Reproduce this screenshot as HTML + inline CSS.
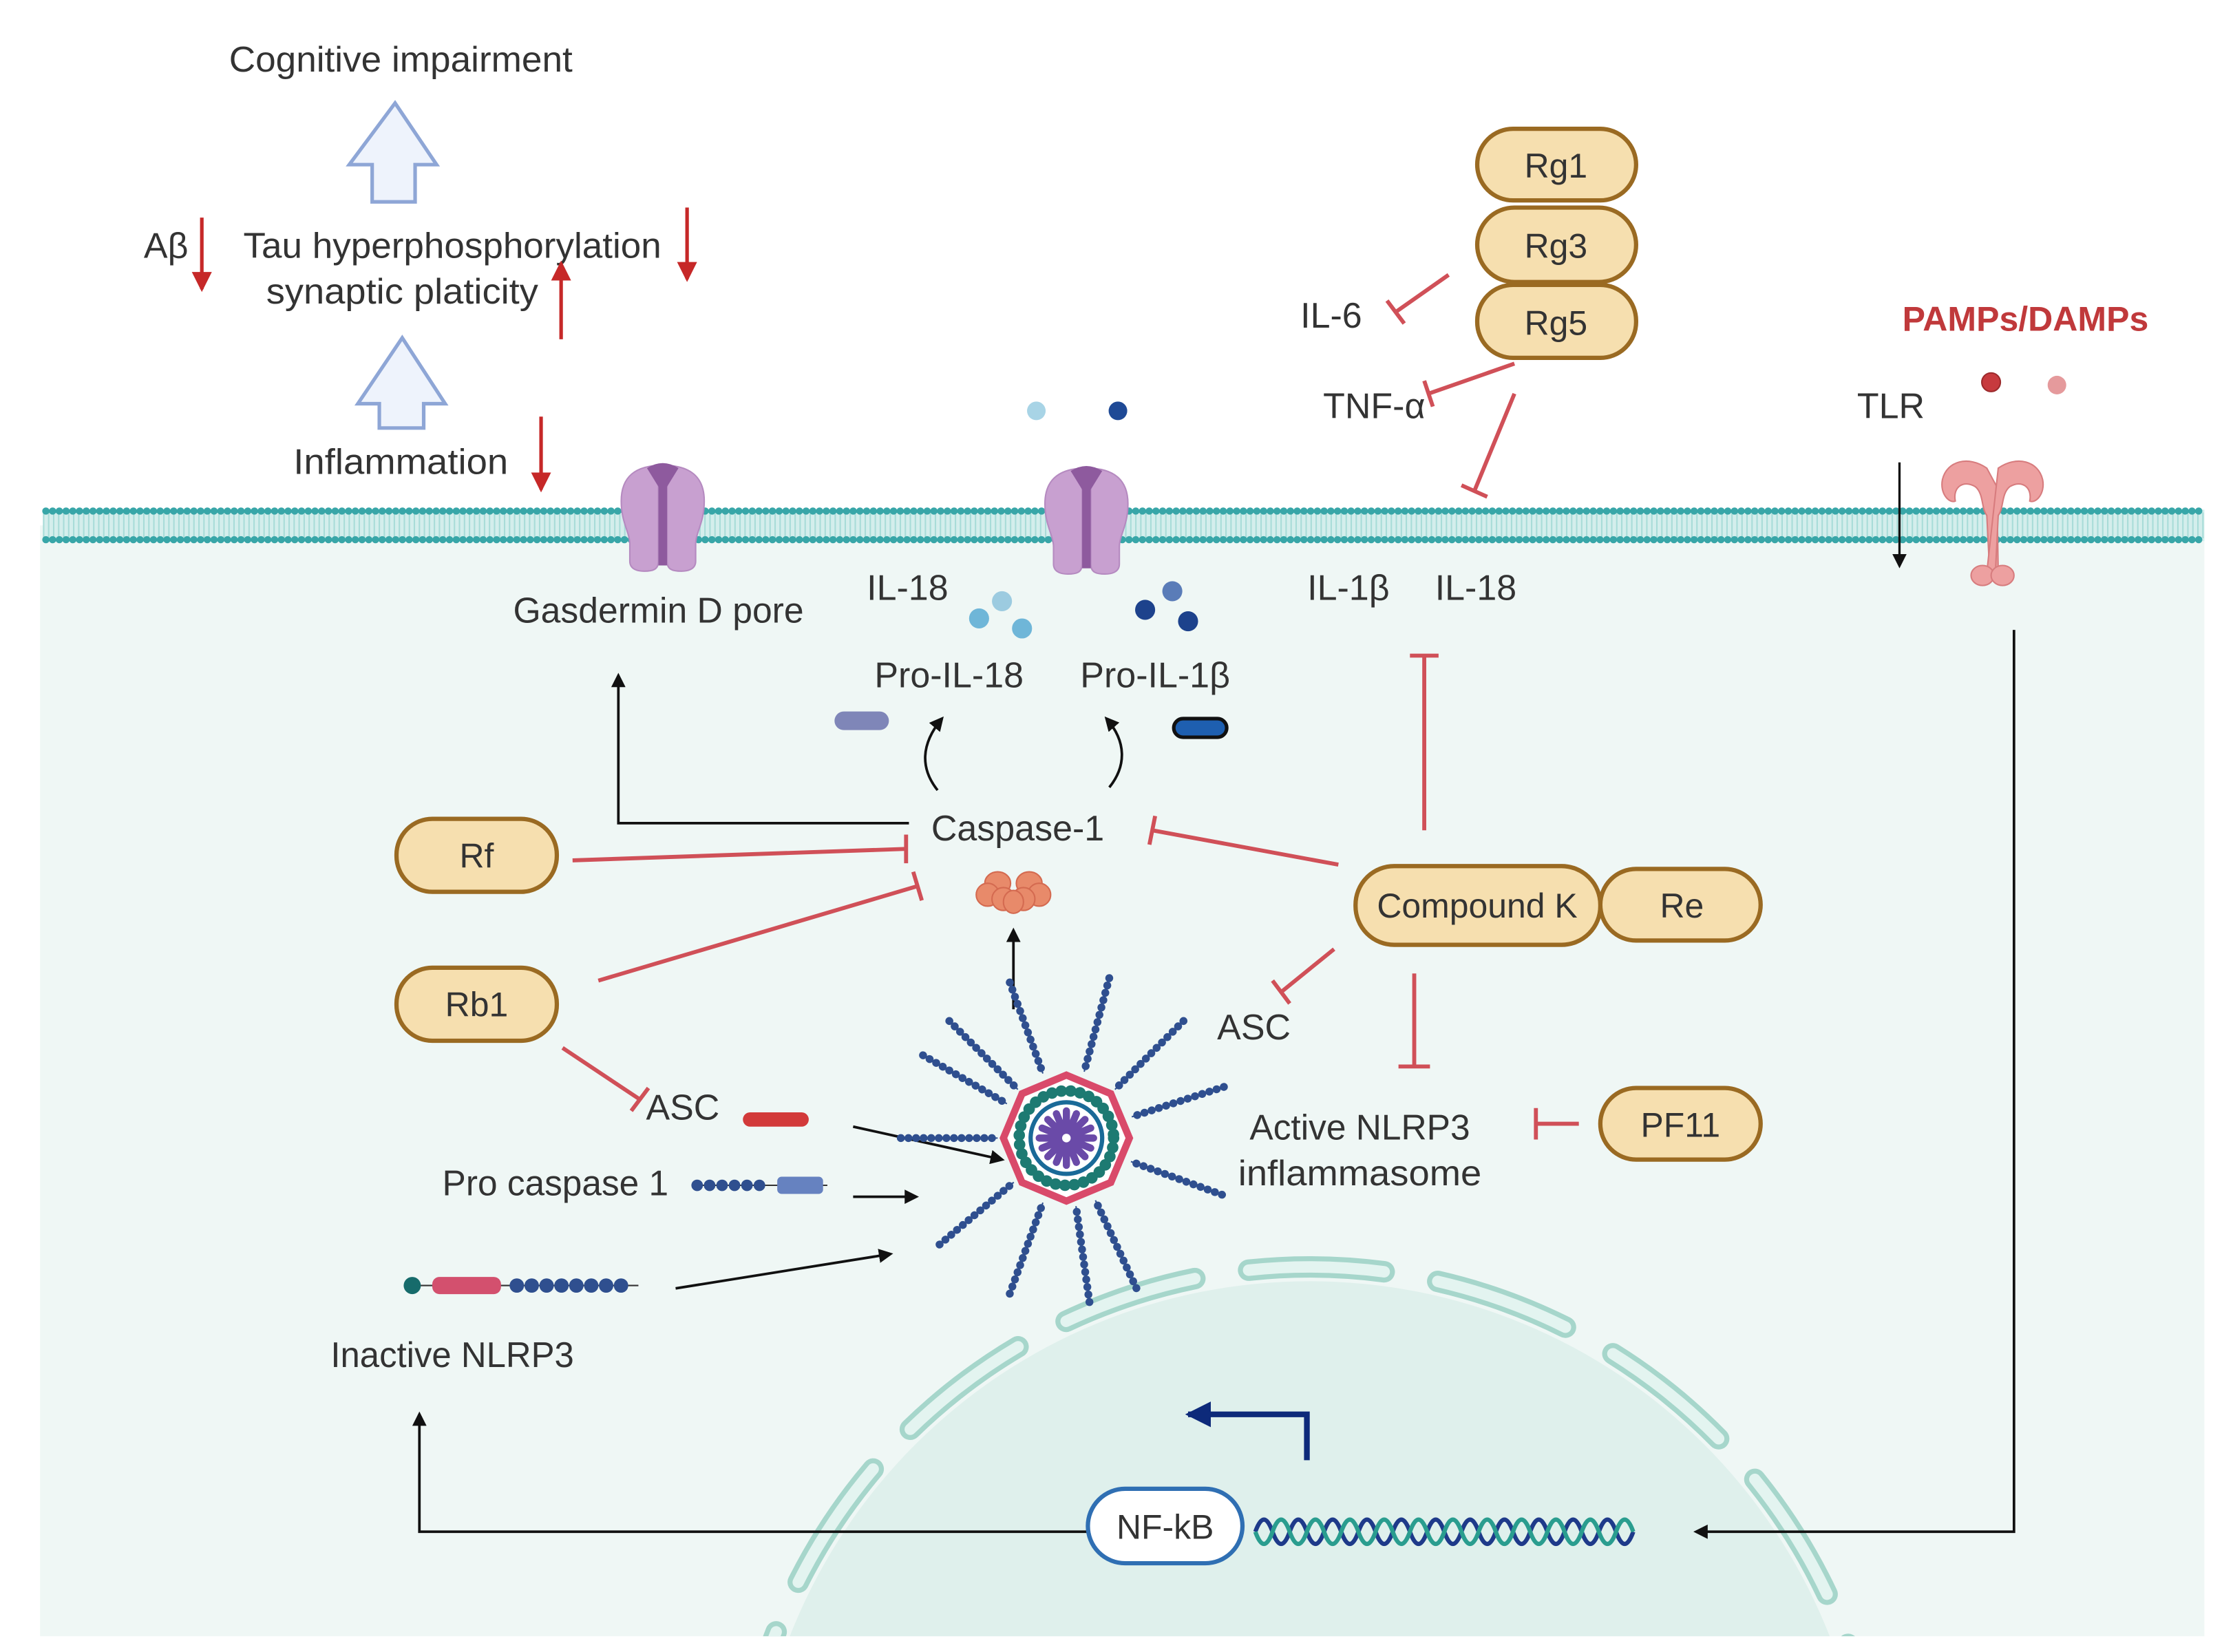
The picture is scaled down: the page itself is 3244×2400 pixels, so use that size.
<!DOCTYPE html>
<html><head><meta charset="utf-8"><style>
html,body{margin:0;padding:0;background:#fff;width:3244px;height:2400px;overflow:hidden}
svg{display:block}
text{font-family:"Liberation Sans",sans-serif;fill:#333}
</style></head><body>
<svg width="3244" height="2400" viewBox="0 0 1560 1154" preserveAspectRatio="none" xmlns="http://www.w3.org/2000/svg">
<defs>
<marker id="ab" markerWidth="10" markerHeight="10" refX="8" refY="5" orient="auto" markerUnits="userSpaceOnUse"><path d="M0,0 L10,5 L0,10 z" fill="#111"/></marker>
<marker id="ar" markerWidth="14" markerHeight="14" refX="12" refY="7" orient="auto" markerUnits="userSpaceOnUse"><path d="M0,0 L14,7 L0,14 z" fill="#c62828"/></marker>
<marker id="an" markerWidth="18" markerHeight="18" refX="16" refY="9" orient="auto" markerUnits="userSpaceOnUse"><path d="M0,0 L18,9 L0,18 z" fill="#0d2a7a"/></marker>
<clipPath id="cell"><rect x="28" y="367" width="1512" height="776"/></clipPath>
<g id="spoke"><line x1="0" y1="-52" x2="0" y2="-118" stroke="#2f4f8f" stroke-width="5.5" stroke-dasharray="0.1 5.2" stroke-linecap="round"/><line x1="0" y1="-48" x2="0" y2="-116" stroke="#2f4f8f" stroke-width="1"/></g>
</defs>

<rect x="28" y="367" width="1512" height="776" fill="#eff7f5"/>

<g clip-path="url(#cell)">
<circle cx="915" cy="1285" r="390" fill="#dff0ec"/>
<circle cx="915" cy="1285" r="400" fill="none" stroke="#a6d6cb" stroke-width="15" stroke-dasharray="95 38" stroke-dashoffset="20" stroke-linecap="round"/>
<circle cx="915" cy="1285" r="400" fill="none" stroke="#e3f4f0" stroke-width="8" stroke-dasharray="95 38" stroke-dashoffset="20" stroke-linecap="round"/>
</g>

<rect x="30" y="356" width="1510" height="22" fill="#d4eeec"/>
<line x1="30" y1="367" x2="1540" y2="367" stroke="#a8dcd8" stroke-width="18" stroke-dasharray="1 2.5"/>
<line x1="32" y1="357" x2="1540" y2="357" stroke="#38a6a8" stroke-width="5" stroke-dasharray="0.1 4.6" stroke-linecap="round"/>
<line x1="32" y1="377" x2="1540" y2="377" stroke="#38a6a8" stroke-width="5" stroke-dasharray="0.1 4.6" stroke-linecap="round"/>

<text x="280" y="50" font-size="25" text-anchor="middle" textLength="240" lengthAdjust="spacingAndGlyphs">Cognitive impairment</text>
<path d="M276,72 L305,115 L290,115 L290,141 L260,141 L260,115 L244,115 Z" fill="#eef3fc" stroke="#8ea6d6" stroke-width="2.5"/>
<path d="M281,236 L311,282 L296,282 L296,299 L265,299 L265,282 L250,282 Z" fill="#eef3fc" stroke="#8ea6d6" stroke-width="2.5"/>
<text x="116" y="180" font-size="25" text-anchor="middle">Aβ</text>
<line x1="141" y1="152" x2="141" y2="202" stroke="#c62828" stroke-width="2.5" marker-end="url(#ar)"/>
<text x="316" y="180" font-size="25" text-anchor="middle" textLength="292" lengthAdjust="spacingAndGlyphs">Tau hyperphosphorylation</text>
<text x="281" y="212" font-size="25" text-anchor="middle" textLength="190" lengthAdjust="spacingAndGlyphs">synaptic platicity</text>
<line x1="480" y1="145" x2="480" y2="195" stroke="#c62828" stroke-width="2.5" marker-end="url(#ar)"/>
<line x1="392" y1="237" x2="392" y2="184" stroke="#c62828" stroke-width="2.5" marker-end="url(#ar)"/>
<text x="280" y="331" font-size="25" text-anchor="middle" textLength="150" lengthAdjust="spacingAndGlyphs">Inflammation</text>
<line x1="378" y1="291" x2="378" y2="342" stroke="#c62828" stroke-width="2.5" marker-end="url(#ar)"/>

<g id="pore">
<path d="M463,325 C445,325 434,332 434,350 C434,365 440,372 440,380 L440,392 C440,398 446,399 450,399 C456,399 460,398 460,392 L460,330 Z" fill="#c8a0d0" stroke="#b58ac0" stroke-width="1"/>
<path d="M463,325 C481,325 492,332 492,350 C492,365 486,372 486,380 L486,392 C486,398 480,399 476,399 C470,399 466,398 466,392 L466,330 Z" fill="#c8a0d0" stroke="#b58ac0" stroke-width="1"/>
<path d="M452,327 Q463,320 474,327 L466,340 L466,395 L460,395 L460,340 Z" fill="#8e5a9e"/>
</g>
<use href="#pore" transform="translate(296,2)"/>

<circle cx="724" cy="287" r="6.5" fill="#a8d4e6"/>
<circle cx="781" cy="287" r="6.5" fill="#1f4a96"/>

<g font-size="24" text-anchor="middle">
<rect x="1032" y="90" width="111" height="50" rx="25" fill="#f6dfaf" stroke="#9a6a22" stroke-width="3"/>
<text x="1087" y="124">Rg1</text>
<rect x="1032" y="145" width="111" height="52" rx="26" fill="#f6dfaf" stroke="#9a6a22" stroke-width="3"/>
<text x="1087" y="180">Rg3</text>
<rect x="1032" y="199" width="111" height="51" rx="25" fill="#f6dfaf" stroke="#9a6a22" stroke-width="3"/>
<text x="1087" y="234">Rg5</text>
<rect x="277" y="572" width="112" height="51" rx="25" fill="#f6dfaf" stroke="#9a6a22" stroke-width="3"/>
<text x="333" y="606">Rf</text>
<rect x="277" y="676" width="112" height="51" rx="25" fill="#f6dfaf" stroke="#9a6a22" stroke-width="3"/>
<text x="333" y="710">Rb1</text>
<rect x="1118" y="607" width="112" height="50" rx="25" fill="#f6dfaf" stroke="#9a6a22" stroke-width="3"/>
<text x="1175" y="641">Re</text>
<rect x="947" y="605" width="171" height="55" rx="27" fill="#f6dfaf" stroke="#9a6a22" stroke-width="3"/>
<text x="1032" y="641">Compound K</text>
<rect x="1118" y="760" width="112" height="50" rx="25" fill="#f6dfaf" stroke="#9a6a22" stroke-width="3"/>
<text x="1174" y="794">PF11</text>
</g>

<g font-size="25" text-anchor="middle">
<text x="930" y="229">IL-6</text>
<text x="960" y="292">TNF-α</text>
<text x="1321" y="292">TLR</text>
<text x="942" y="419">IL-1β</text>
<text x="1031" y="419">IL-18</text>
<text x="634" y="419">IL-18</text>
<text x="460" y="435" textLength="203" lengthAdjust="spacingAndGlyphs">Gasdermin D pore</text>
<text x="663" y="480">Pro-IL-18</text>
<text x="807" y="480">Pro-IL-1β</text>
<text x="711" y="587">Caspase-1</text>
<text x="876" y="726">ASC</text>
<text x="950" y="796" textLength="154" lengthAdjust="spacingAndGlyphs">Active NLRP3</text>
<text x="950" y="828" textLength="170" lengthAdjust="spacingAndGlyphs">inflammasome</text>
<text x="477" y="782">ASC</text>
<text x="388" y="835" textLength="158" lengthAdjust="spacingAndGlyphs">Pro caspase 1</text>
<text x="316" y="955" textLength="170" lengthAdjust="spacingAndGlyphs">Inactive NLRP3</text>
</g>
<text x="1415" y="231" font-size="24" font-weight="bold" text-anchor="middle" style="fill:#c0393b" textLength="172" lengthAdjust="spacingAndGlyphs">PAMPs/DAMPs</text>
<circle cx="1391" cy="267" r="6.5" fill="#c73a3e" stroke="#9c2a2c" stroke-width="1"/>
<circle cx="1437" cy="269" r="6.5" fill="#e59a9c"/>

<g fill="#eda0a0" stroke="#d77c7e" stroke-width="1">
<path d="M1388,327 C1375,318 1360,322 1357,335 C1355,345 1362,352 1366,350 C1364,340 1372,335 1380,340 C1386,345 1384,355 1388,360 L1390,400 L1396,400 L1395,340 Z"/>
<path d="M1396,327 C1409,318 1424,322 1427,335 C1429,345 1422,352 1418,350 C1420,340 1412,335 1404,340 C1398,345 1400,355 1396,360 L1394,400 L1388,400 Z"/>
<ellipse cx="1385" cy="402" rx="8" ry="7"/><ellipse cx="1399" cy="402" rx="8" ry="7"/>
</g>
<line x1="1327" y1="323" x2="1327" y2="395" stroke="#111" stroke-width="1.6" marker-end="url(#ab)"/>
<polyline points="1407,440 1407,1070 1185,1070" fill="none" stroke="#111" stroke-width="1.8" marker-end="url(#ab)"/>

<g stroke="#d05058" stroke-width="2.8" fill="none">
<line x1="1012" y1="192" x2="975" y2="218"/><line x1="969" y1="210" x2="981" y2="226"/>
<line x1="1058" y1="254" x2="998" y2="275"/><line x1="995" y1="266" x2="1001" y2="284"/>
<line x1="1058" y1="275" x2="1030" y2="343"/><line x1="1021" y1="339" x2="1039" y2="347"/>
<line x1="995" y1="580" x2="995" y2="458"/><line x1="985" y1="458" x2="1005" y2="458"/>
<line x1="400" y1="601" x2="633" y2="593"/><line x1="633" y1="583" x2="633" y2="603"/>
<line x1="418" y1="685" x2="641" y2="619"/><line x1="638" y1="609" x2="644" y2="629"/>
<line x1="935" y1="604" x2="805" y2="580"/><line x1="807" y1="570" x2="803" y2="590"/>
<line x1="932" y1="663" x2="895" y2="693"/><line x1="889" y1="685" x2="901" y2="701"/>
<line x1="988" y1="680" x2="988" y2="745"/><line x1="977" y1="745" x2="999" y2="745"/>
<line x1="1103" y1="785" x2="1073" y2="785"/><line x1="1073" y1="774" x2="1073" y2="796"/>
<line x1="393" y1="732" x2="447" y2="768"/><line x1="441" y1="776" x2="453" y2="760"/>
</g>

<g stroke="#111" stroke-width="1.8" fill="none">
<polyline points="635,575 432,575 432,472" marker-end="url(#ab)"/>
<line x1="708" y1="705" x2="708" y2="650" marker-end="url(#ab)"/>
<line x1="596" y1="787" x2="700" y2="810" marker-end="url(#ab)"/>
<line x1="596" y1="836" x2="640" y2="836" marker-end="url(#ab)"/>
<line x1="472" y1="900" x2="622" y2="876" marker-end="url(#ab)"/>
<polyline points="760,1070 293,1070 293,988" marker-end="url(#ab)"/>
<path d="M655,552 C643,537 643,520 658,502" marker-end="url(#ab)"/>
<path d="M775,550 C787,535 787,518 773,502" marker-end="url(#ab)"/>
</g>

<rect x="583" y="497" width="38" height="13" rx="6.5" fill="#7f86b8"/>
<rect x="820" y="502" width="37" height="13" rx="6.5" fill="#1e5fb0" stroke="#111" stroke-width="2.5"/>
<circle cx="700" cy="420" r="7" fill="#9ccbe0"/><circle cx="684" cy="432" r="7" fill="#6fb6d8"/><circle cx="714" cy="439" r="7" fill="#6fb6d8"/>
<circle cx="819" cy="413" r="7" fill="#5a7cb8"/><circle cx="800" cy="426" r="7" fill="#1d428c"/><circle cx="830" cy="434" r="7" fill="#1d428c"/>

<g fill="#e88a6a" stroke="#d46a50" stroke-width="1">
<ellipse cx="697" cy="617" rx="9" ry="8"/><ellipse cx="719" cy="617" rx="9" ry="8"/>
<ellipse cx="690" cy="625" rx="8" ry="8"/><ellipse cx="726" cy="625" rx="8" ry="8"/>
<ellipse cx="701" cy="628" rx="8" ry="8"/><ellipse cx="715" cy="628" rx="8" ry="8"/>
<ellipse cx="708" cy="630" rx="7" ry="8"/>
</g>

<rect x="519" y="777" width="46" height="10" rx="5" fill="#d23a3a"/>
<line x1="485" y1="828" x2="578" y2="828" stroke="#333" stroke-width="1"/>
<line x1="487" y1="828" x2="532" y2="828" stroke="#2f4f8f" stroke-width="8" stroke-dasharray="0.1 8.6" stroke-linecap="round"/>
<rect x="543" y="822" width="32" height="12" rx="3" fill="#6682c0"/>
<line x1="290" y1="898" x2="446" y2="898" stroke="#333" stroke-width="1"/>
<circle cx="288" cy="898" r="6" fill="#166b6b"/>
<rect x="302" y="892" width="48" height="12" rx="5" fill="#d3506e"/>
<line x1="361" y1="898" x2="444" y2="898" stroke="#2f4f8f" stroke-width="10" stroke-dasharray="0.1 10.3" stroke-linecap="round"/>

<g transform="translate(745,795)">
<use href="#spoke" transform="rotate(-20)"/>
<use href="#spoke" transform="rotate(15)"/>
<use href="#spoke" transform="rotate(45)"/>
<use href="#spoke" transform="rotate(72)"/>
<use href="#spoke" transform="rotate(110)"/>
<use href="#spoke" transform="rotate(155)"/>
<use href="#spoke" transform="rotate(172)"/>
<use href="#spoke" transform="rotate(200)"/>
<use href="#spoke" transform="rotate(230)"/>
<use href="#spoke" transform="rotate(270)"/>
<use href="#spoke" transform="rotate(300)"/>
<use href="#spoke" transform="rotate(-45)"/>
<polygon points="0,-44 31,-31 44,0 31,31 0,44 -31,31 -44,0 -31,-31" fill="#fff" stroke="#d94a6a" stroke-width="5"/>
<circle r="33" fill="none" stroke="#1d7a72" stroke-width="8" stroke-dasharray="0.1 6.5" stroke-linecap="round"/>
<circle r="25" fill="#fff" stroke="#1a6a98" stroke-width="3"/>
<g stroke="#6a4aa8" stroke-width="5" stroke-linecap="round">
<line x1="0" y1="-19" x2="0" y2="19"/><line x1="-19" y1="0" x2="19" y2="0"/>
<line x1="-13" y1="-13" x2="13" y2="13"/><line x1="-13" y1="13" x2="13" y2="-13"/>
<line x1="-7" y1="-17" x2="7" y2="17"/><line x1="-17" y1="-7" x2="17" y2="7"/>
<line x1="-7" y1="17" x2="7" y2="-17"/><line x1="-17" y1="7" x2="17" y2="-7"/>
</g>
<circle r="3" fill="#fff"/>
</g>

<path d="M913,1020 L913,988 L830,988" fill="none" stroke="#0d2a7a" stroke-width="4" marker-end="url(#an)"/>
<rect x="760" y="1040" width="108" height="52" rx="26" fill="#fff" stroke="#2f6fb3" stroke-width="3"/>
<text x="814" y="1075" font-size="24" text-anchor="middle">NF-kB</text>
<path d="M877,1070 q6,-17 12,0 t12,0 t12,0 t12,0 t12,0 t12,0 t12,0 t12,0 t12,0 t12,0 t12,0 t12,0 t12,0 t12,0 t12,0 t12,0 t12,0 t12,0 t12,0 t12,0 t12,0 t12,0" fill="none" stroke="#1e3a8a" stroke-width="3"/>
<path d="M877,1070 q6,17 12,0 t12,0 t12,0 t12,0 t12,0 t12,0 t12,0 t12,0 t12,0 t12,0 t12,0 t12,0 t12,0 t12,0 t12,0 t12,0 t12,0 t12,0 t12,0 t12,0 t12,0 t12,0" fill="none" stroke="#2a9d8f" stroke-width="3"/>
</svg>
</body></html>
